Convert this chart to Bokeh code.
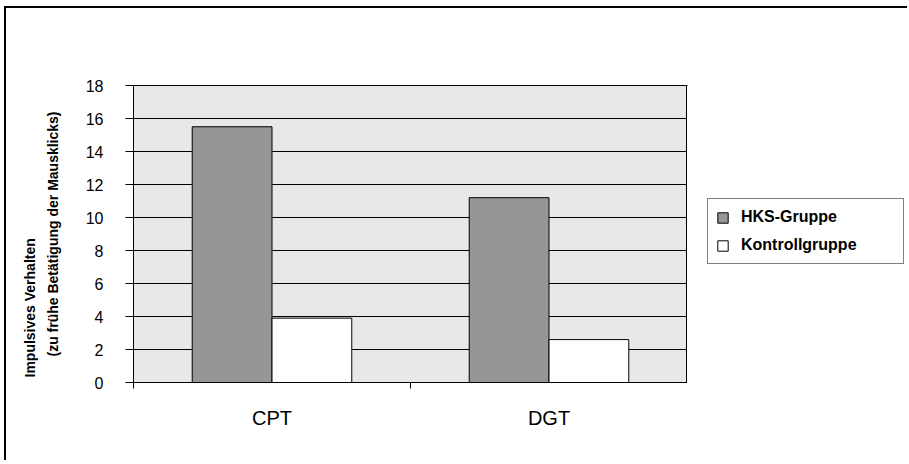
from bokeh.plotting import figure
from bokeh.layouts import row
from bokeh.models import (ColumnDataSource, Range1d, LinearAxis,
                          FixedTicker, Legend, LegendItem, Title)
from bokeh.transform import dodge
from bokeh.embed import file_html
from bokeh.resources import INLINE

# ---- data ----
categories = ["CPT", "DGT"]
series_names = ["HKS-Gruppe", "Kontrollgruppe"]
series_colors = ["#969696", "white"]
hks = [15.5, 11.2]
kontroll = [3.9, 2.6]
y_ticks = [0, 2, 4, 6, 8, 10, 12, 14, 16, 18]
y_title_lines = ["Impulsives Verhalten", "(zu frühe Betätigung der Mausklicks)"]

FONT = "Liberation Sans"

# category slot centres (slot i spans [i, i+1])
centers = [i + 0.5 for i in range(len(categories))]
bounds = list(range(len(categories) + 1))
src = ColumnDataSource(dict(x=centers, hks=hks, kontroll=kontroll))

p = figure(x_range=Range1d(0, len(categories)),
           y_range=Range1d(0, 18),
           width=681, height=452,
           output_backend="svg", toolbar_location=None,
           x_axis_location=None,
           min_border_left=127, min_border_right=0,
           min_border_top=77, min_border_bottom=78)

p.background_fill_color = "#E8E8E8"
p.border_fill_color = "white"
p.outline_line_color = "black"
p.outline_line_width = 1

# grids
p.xgrid.visible = False
p.ygrid.ticker = FixedTicker(ticks=y_ticks)
p.ygrid.grid_line_color = "black"
p.ygrid.grid_line_width = 1

# y axis (inner title line is the axis label)
ya = p.yaxis[0]
ya.ticker = FixedTicker(ticks=y_ticks)
ya.axis_line_color = "black"
ya.major_tick_line_color = "black"
ya.major_tick_in = 0
ya.major_tick_out = 8
ya.minor_tick_line_color = None
ya.major_label_standoff = 22
ya.major_label_text_font = FONT
ya.major_label_text_font_size = "16px"
ya.major_label_text_color = "black"
ya.axis_label = y_title_lines[1]
ya.axis_label_standoff = 22
ya.axis_label_text_font = FONT
ya.axis_label_text_font_size = "14px"
ya.axis_label_text_font_style = "bold"
ya.axis_label_text_color = "black"

# outer title line
p.add_layout(Title(text=y_title_lines[0], align="left", offset=5, standoff=8,
                   vertical_align="bottom",
                   text_font=FONT, text_font_size="14px", text_font_style="bold",
                   text_color="black"), "left")

# x axes: boundary ticks (closest to frame) + category labels
tick_axis = LinearAxis(ticker=FixedTicker(ticks=bounds),
                       major_label_overrides={b: "" for b in bounds},
                       major_tick_in=0, major_tick_out=6,
                       major_tick_line_color="black",
                       minor_tick_line_color=None,
                       axis_line_color="black",
                       major_label_standoff=0)
cat_axis = LinearAxis(ticker=FixedTicker(ticks=centers),
                      major_label_overrides={c: lab for c, lab in zip(centers, categories)},
                      axis_line_color=None,
                      major_tick_line_color=None,
                      minor_tick_line_color=None,
                      major_tick_in=0, major_tick_out=0,
                      major_label_standoff=18,
                      major_label_text_font=FONT,
                      major_label_text_font_size="20px",
                      major_label_text_color="black")
p.add_layout(tick_axis, "below")
p.add_layout(cat_axis, "below")

# bars
r1 = p.vbar(x=dodge("x", -0.144), top="hks", width=0.288,
            source=src, fill_color=series_colors[0], line_color="black", line_width=1)
r2 = p.vbar(x=dodge("x", 0.144), top="kontroll", width=0.288,
            source=src, fill_color=series_colors[1], line_color="black", line_width=1)

# legend panel: a second figure sharing the same vertical frame;
# its copies of the bar renderers sit outside its visible ranges
lf = figure(width=220, height=452, output_backend="svg", toolbar_location=None,
            x_range=Range1d(10, 11), y_range=Range1d(-2, -1),
            x_axis_location=None, y_axis_location=None,
            min_border_left=0, min_border_right=0,
            min_border_top=77, min_border_bottom=78)
lf.grid.visible = False
lf.outline_line_color = None
lf.background_fill_color = "white"
lf.border_fill_color = "white"
d1 = lf.vbar(x="x", top="hks", width=0.1, source=src,
             fill_color=series_colors[0], line_color="black", line_width=1)
d2 = lf.vbar(x="x", top="kontroll", width=0.1, source=src,
             fill_color=series_colors[1], line_color="black", line_width=1)

legend = Legend(items=[LegendItem(label=series_names[0], renderers=[d1]),
                       LegendItem(label=series_names[1], renderers=[d2])],
                location=(20, 118), margin=0, padding=8, spacing=8,
                glyph_width=13, glyph_height=13, label_standoff=12,
                label_width=154, label_height=20,
                label_text_font=FONT, label_text_font_size="16px",
                label_text_font_style="bold", label_text_color="black",
                border_line_color="black", border_line_width=1,
                background_fill_color="white", background_fill_alpha=1)
lf.add_layout(legend, "center")

layout = row(p, lf, spacing=0)
layout.styles = {"border-top": "2px solid black", "border-left": "2px solid black",
                 "margin-left": "4px", "margin-top": "6px"}

open("out.html", "w").write(file_html(layout, INLINE))
